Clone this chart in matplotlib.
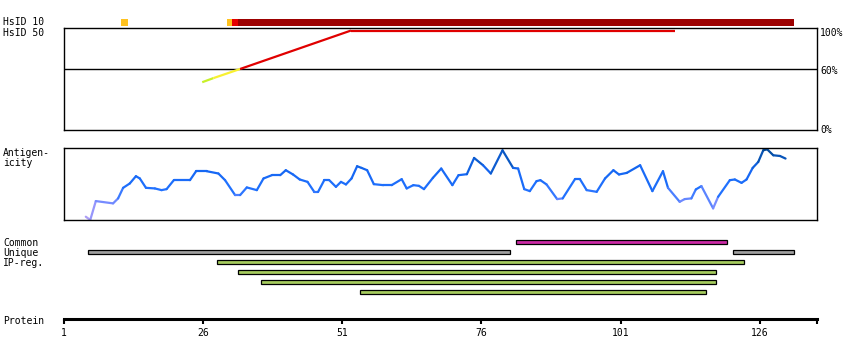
import matplotlib
matplotlib.use("Agg")
import matplotlib.pyplot as plt
from matplotlib.collections import LineCollection
from matplotlib.colors import LinearSegmentedColormap, Normalize
import numpy as np

plt.rcParams['font.family'] = ['DejaVu Sans Mono']

# ---------------- data ----------------
seq_len = 136.3
tick_positions = [1, 26, 51, 76, 101, 126, 136.3]
tick_labels = ["1", "26", "51", "76", "101", "126", ""]

# HsID 10 strip (start, end, colour)
hs10_starts = [11.3, 30.3, 31.2, 32.3]
hs10_ends = [12.5, 31.2, 32.3, 132.2]
hs10_colors = ["#ffc21f", "#ffc21f", "#e60000", "#9c0000"]

# HsID 50 identity trace (%)
hs50_x = [25.9, 27.9, 32.7, 52.6, 110.7]
hs50_y = [47, 51, 60, 97.8, 97.8]
hs50_colors = ["#c8f028", "#f8f030", "#e00000", "#e00000"]

# Antigenicity profile (residue, score)
ag_x = [5.0, 5.8, 6.8, 9.9, 10.8, 11.7, 12.9, 14.0, 14.7, 15.8, 17.4, 18.6, 19.5,
        20.8, 23.7, 24.8, 26.7, 28.8, 30.0, 31.8, 32.7, 33.9, 35.7, 36.9, 38.4,
        39.9, 40.9, 42.2, 43.4, 44.8, 46.0, 46.7, 47.8, 48.7, 49.9, 50.8, 51.7,
        52.7, 53.7, 54.5, 55.5, 56.7, 58.4, 59.9, 61.7, 62.6, 63.8, 64.8, 65.7,
        67.3, 68.8, 70.8, 71.9, 73.4, 74.7, 76.3, 77.7, 79.8, 81.7, 82.6, 83.7,
        84.7, 85.9, 86.6, 87.7, 89.6, 90.6, 92.8, 93.7, 94.9, 96.7, 98.2, 99.7,
        100.7, 102.1, 104.5, 106.7, 108.6, 109.5, 111.6, 112.5, 113.7, 114.5,
        115.5, 117.6, 118.5, 120.6, 121.5, 122.7, 123.6, 124.7, 125.7, 126.6,
        127.3, 128.4, 129.6, 130.6]
ag_y = [3.3, 0, 19, 16.7, 21.7, 32.3, 36.7, 44, 41.7, 32.3, 31.7, 30, 31,
        40, 40, 49, 49, 46.7, 40, 25, 25, 32.7, 30, 41.7, 45,
        45, 50, 45.7, 40.7, 38.3, 28.3, 28.3, 40, 40, 33.3, 38.3, 35.7,
        41.7, 54, 52.3, 50, 36, 35, 35, 41, 31.7, 35, 34.3, 31,
        42.3, 51.7, 35, 45, 46, 62.3, 55, 46.7, 70, 52.3, 51.7, 31,
        29, 39, 40, 35.7, 21, 21.7, 41, 41, 30, 28.3, 41.7, 50,
        45.7, 47.3, 55, 29, 49, 32.3, 18.3, 21, 21.7, 30.7,
        34, 11.7, 23.3, 40, 40.7, 37.3, 40.7, 52.3, 58.3, 70,
        71, 65, 64.3, 61.7]

# Region bars
common_starts = [82.3]
common_ends = [120.1]
unique_starts = [5.45, 121.2]
unique_ends = [81.2, 132.2]
ipreg_starts = [28.5, 32.4, 36.4, 54.3]
ipreg_ends = [123.2, 118.2, 118.2, 116.3]

# ---------------- layout helpers ----------------
W, H = 850, 360
fig = plt.figure(figsize=(W / 100, H / 100), dpi=100)
X0, X1 = 63.5, 817.3


def px_axes(y0, y1, x0=X0, x1=X1):
    return fig.add_axes([x0 / W, 1 - y1 / H, (x1 - x0) / W, (y1 - y0) / H])


def ftext(x, y, s, **kw):
    fig.text(x / W, 1 - y / H, s, va='center', ha=kw.pop('ha', 'left'),
             fontsize=kw.pop('fontsize', 7), **kw)


# ---------------- HsID 10 strip ----------------
ax10 = px_axes(19.5, 25.5)
ax10.set_xlim(1, seq_len)
ax10.set_ylim(0, 1)
ax10.axis('off')
for s, e, c in zip(hs10_starts, hs10_ends, hs10_colors):
    ax10.broken_barh([(s, e - s)], (0, 1), facecolors=c)

# ---------------- HsID 50 box ----------------
ax50 = px_axes(28.3, 130)
ax50.set_xlim(1, seq_len)
ax50.set_ylim(0, 100)
ax50.set_xticks([])
ax50.set_yticks([])
for sp in ax50.spines.values():
    sp.set_linewidth(1.0)
ax50.axhline(60, color='black', lw=1.0)
pts = np.column_stack([hs50_x, hs50_y])
segs = [pts[i:i + 2] for i in range(len(pts) - 1)]
ax50.add_collection(LineCollection(segs, colors=hs50_colors, linewidths=1.6,
                                   capstyle='butt'))

# ---------------- Antigenicity box ----------------
axag = px_axes(148.3, 220)
axag.set_xlim(1, seq_len)
axag.set_ylim(0, 72)
axag.set_xticks([])
axag.set_yticks([])
for sp in axag.spines.values():
    sp.set_linewidth(1.0)
cmap = LinearSegmentedColormap.from_list(
    'ag', [(0.0, '#b0a0f4'), (0.2, '#8890ff'), (0.32, '#5a84ff'),
           (0.42, '#2272ff'), (0.7, '#1466f2'), (0.85, '#0a58c4'),
           (1.0, '#00468e')])
norm = Normalize(0, 72)
apts = np.column_stack([ag_x, ag_y])
asegs = [apts[i:i + 2] for i in range(len(apts) - 1)]
mids = [(ag_y[i] + ag_y[i + 1]) / 2 for i in range(len(ag_y) - 1)]
lc = LineCollection(asegs, colors=cmap(norm(mids)), linewidths=1.6,
                    capstyle='round', joinstyle='round')
axag.add_collection(lc)

# ---------------- Region bars ----------------
axb = px_axes(237.3, 297.3)
axb.set_xlim(1, seq_len)
axb.set_ylim(5.5, -0.5)
axb.axis('off')
bh = 0.42
for s, e in zip(common_starts, common_ends):
    axb.barh(0, e - s, left=s, height=bh, color='#cc2aa6', edgecolor='black', linewidth=0.9)
for s, e in zip(unique_starts, unique_ends):
    axb.barh(1, e - s, left=s, height=bh, color='#a0a0a0', edgecolor='black', linewidth=0.9)
for i, (s, e) in enumerate(zip(ipreg_starts, ipreg_ends)):
    axb.barh(2 + i, e - s, left=s, height=bh, color='#a6cc5e', edgecolor='black', linewidth=0.9)

# ---------------- Protein axis ----------------
axp = px_axes(300, 319.3)
axp.set_xlim(1, seq_len)
axp.set_ylim(0, 1)
for k in ['top', 'left', 'right']:
    axp.spines[k].set_visible(False)
axp.spines['bottom'].set_linewidth(2.2)
axp.set_yticks([])
axp.set_xticks(tick_positions)
axp.set_xticklabels(tick_labels, fontsize=7)
axp.tick_params(axis='x', direction='out', length=3.5, width=1.5, pad=2.5)
axp.patch.set_visible(False)

# ---------------- Labels ----------------
ftext(3, 22, "HsID 10")
ftext(3, 32.5, "HsID 50")
ftext(820, 32.5, "100%")
ftext(820, 71, "60%")
ftext(820, 130, "0%")
ftext(3, 153, "Antigen-")
ftext(3, 163, "icity")
ftext(3, 243, "Common")
ftext(3, 253, "Unique")
ftext(3, 263, "IP-reg.")
ftext(3, 320.5, "Protein")

fig.savefig("out.png", dpi=100)
